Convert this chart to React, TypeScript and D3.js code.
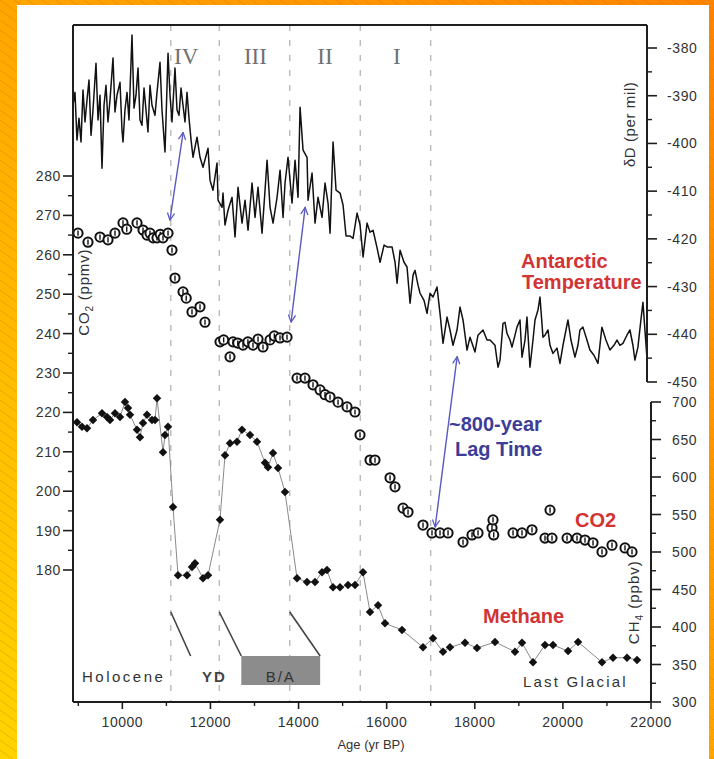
import * as d3 from "d3";

// Antarctic deuterium record (age yr BP, δD per mil)
const deltaD: [number, number][] = [
  [8880, -392.0], [8925, -389.3], [8970, -399.3], [9016, -394.7], [9062, -399.7], [9107, -388.8],
  [9152, -395.5], [9198, -390.9], [9243, -386.7], [9289, -398.3], [9334, -393.0], [9402, -383.2],
  [9448, -395.1], [9493, -389.9], [9538, -405.2], [9584, -392.0], [9629, -387.8], [9674, -395.5],
  [9720, -390.9], [9788, -382.1], [9833, -393.4], [9879, -389.9], [9947, -387.2], [9992, -397.2],
  [10015, -399.7], [10060, -393.0], [10106, -389.3], [10151, -395.1], [10219, -377.3], [10265, -392.6],
  [10310, -389.9], [10356, -384.2], [10401, -395.1], [10446, -396.2], [10492, -388.4], [10537, -393.0],
  [10582, -397.6], [10628, -387.8], [10673, -392.0], [10741, -394.1], [10787, -389.3], [10855, -383.0],
  [10900, -393.0], [10968, -401.8], [10991, -395.1], [11037, -381.1], [11082, -389.9], [11127, -395.5],
  [11195, -384.2], [11241, -393.0], [11286, -394.1], [11332, -388.4], [11377, -392.0], [11422, -395.5],
  [11468, -389.3], [11513, -394.7], [11560, -399.3], [11604, -402.9], [11695, -398.7], [11763, -402.9],
  [11831, -405.0], [11945, -401.0], [11990, -407.7], [12058, -409.8], [12149, -404.1], [12172, -411.9],
  [12263, -413.4], [12285, -410.4], [12330, -417.1], [12399, -414.0], [12490, -411.3], [12558, -419.6],
  [12626, -409.2], [12717, -416.7], [12785, -411.9], [12853, -418.2], [12944, -408.3], [13012, -415.5],
  [13080, -409.2], [13171, -418.8], [13239, -409.8], [13285, -403.5], [13353, -413.4], [13421, -416.7],
  [13512, -411.3], [13580, -405.6], [13648, -415.5], [13693, -408.3], [13761, -402.9], [13852, -412.5],
  [13920, -403.5], [13988, -411.3], [14034, -392.4], [14102, -401.4], [14193, -402.9], [14215, -411.9],
  [14306, -406.2], [14374, -416.7], [14442, -411.3], [14533, -415.5], [14601, -408.3], [14669, -412.5],
  [14715, -418.8], [14783, -399.7], [14851, -409.8], [14942, -410.4], [15010, -412.9], [15078, -419.4],
  [15169, -419.4], [15237, -419.9], [15328, -414.6], [15396, -417.1], [15464, -423.8], [15555, -416.7],
  [15623, -418.6], [15691, -418.2], [15782, -421.9], [15850, -424.9], [15941, -421.3], [16009, -421.7],
  [16122, -421.7], [16190, -424.9], [16236, -429.3], [16304, -422.4], [16394, -424.9], [16462, -425.9],
  [16531, -433.5], [16599, -427.6], [16644, -426.6], [16712, -429.7], [16758, -431.4], [16848, -432.9],
  [16916, -435.6], [16984, -431.4], [17052, -432.2], [17143, -430.1], [17211, -435.6], [17279, -441.9],
  [17370, -436.4], [17438, -439.1], [17506, -442.3], [17597, -439.1], [17665, -434.3], [17733, -437.0],
  [17824, -443.3], [17892, -440.6], [18005, -443.7], [18073, -440.2], [18187, -439.1], [18278, -441.2],
  [18346, -441.2], [18459, -442.3], [18527, -446.9], [18573, -445.4], [18641, -437.7], [18686, -437.5],
  [18731, -439.8], [18800, -441.2], [18845, -442.7], [18958, -438.5], [19026, -437.0], [19072, -444.8],
  [19140, -441.2], [19185, -436.4], [19253, -446.9], [19321, -441.2], [19367, -437.0], [19435, -434.9],
  [19480, -432.2], [19548, -440.6], [19594, -440.2], [19662, -439.1], [19707, -442.3], [19775, -444.0],
  [19866, -442.9], [19934, -446.1], [20002, -442.3], [20047, -440.2], [20115, -437.0], [20183, -441.2],
  [20274, -444.8], [20342, -442.3], [20387, -439.1], [20455, -438.5], [20546, -441.2], [20614, -443.3],
  [20705, -444.4], [20796, -446.1], [20886, -438.5], [20977, -441.2], [21068, -443.3], [21159, -442.3],
  [21227, -441.2], [21295, -442.3], [21363, -441.9], [21454, -440.2], [21522, -439.1], [21590, -442.3],
  [21635, -445.4], [21703, -442.7], [21771, -437.0], [21817, -433.3], [21862, -439.1], [21907, -444.8],
];

// CO2 (age yr BP, ppmv)
const co2: [number, number][] = [
  [8994, 265.5], [9220, 263.2], [9493, 264.5], [9675, 263.8], [9833, 265.5], [10015, 268.1],
  [10100, 266.5], [10333, 268.1], [10469, 266.3], [10560, 265.0], [10628, 265.5], [10700, 264.3],
  [10787, 264.3], [10860, 265.2], [10923, 264.3], [11037, 265.5], [11127, 261.2], [11195, 254.1],
  [11377, 250.6], [11450, 249.0], [11581, 245.5], [11763, 246.8], [11876, 242.9], [12217, 237.9],
  [12300, 238.4], [12444, 234.1], [12512, 237.9], [12620, 237.6], [12739, 237.1], [12850, 237.9],
  [12966, 237.1], [13080, 238.6], [13193, 236.6], [13352, 238.4], [13450, 239.4], [13579, 238.9],
  [13738, 239.1], [13965, 228.7], [14146, 228.7], [14328, 227.0], [14487, 225.7], [14600, 224.5],
  [14714, 223.9], [14896, 222.6], [15100, 221.4], [15281, 220.1], [15395, 214.3], [15622, 207.9],
  [15735, 207.9], [16076, 203.4], [16189, 201.1], [16371, 195.7], [16485, 194.7], [16825, 191.4],
  [17029, 189.4], [17211, 189.4], [17393, 189.4], [17733, 187.1], [17937, 188.9], [18074, 189.4],
  [18391, 190.7], [18414, 192.7], [18430, 188.9], [18868, 189.4], [19072, 189.4], [19299, 190.2],
  [19594, 188.1], [19708, 195.2], [19753, 188.1], [20094, 188.1], [20321, 188.1], [20502, 187.6],
  [20684, 186.9], [20888, 184.6], [21115, 186.3], [21410, 185.6], [21569, 184.6],
];

// CH4 (age yr BP, ppbv)
const ch4: [number, number][] = [
  [8971, 673], [9084, 667], [9198, 665], [9334, 676], [9538, 685], [9652, 680], [9720, 676],
  [9833, 685], [9947, 680], [10060, 700], [10129, 692], [10174, 683], [10333, 663], [10401, 653],
  [10469, 672], [10560, 683], [10673, 676], [10741, 676], [10787, 705], [10923, 633], [10968, 656],
  [11037, 667], [11150, 560], [11264, 469], [11468, 469], [11581, 480], [11649, 485], [11831, 465],
  [11945, 469], [12217, 543], [12330, 629], [12444, 645], [12603, 647], [12716, 663], [12898, 656],
  [13057, 647], [13238, 619], [13306, 613], [13420, 632], [13534, 612], [13692, 580], [13965, 465],
  [14192, 460], [14373, 460], [14532, 473], [14646, 476], [14782, 453], [14941, 453], [15123, 456],
  [15281, 456], [15463, 473], [15622, 420], [15804, 429], [15962, 405], [16348, 396], [16825, 373],
  [17052, 385], [17279, 367], [17438, 373], [17778, 379], [18051, 372], [18459, 380], [18913, 367],
  [19072, 379], [19322, 353], [19594, 376], [19776, 376], [20117, 368], [20344, 380], [20888, 353],
  [21138, 359], [21456, 359], [21683, 356],
];

const ageTicks = [10000, 12000, 14000, 16000, 18000, 20000, 22000];
const ageMinorTicks = [9000, 11000, 13000, 15000, 17000, 19000, 21000];
const co2Ticks = [180, 190, 200, 210, 220, 230, 240, 250, 260, 270, 280];
const co2MinorTicks = [185, 195, 205, 215, 225, 235, 245, 255, 265, 275];
const dDTicks = [-450, -440, -430, -420, -410, -400, -390, -380];
const dDMinorTicks = [-445, -435, -425, -415, -405, -395, -385];
const ch4Ticks = [300, 350, 400, 450, 500, 550, 600, 650, 700];
const ch4MinorTicks = [325, 375, 425, 475, 525, 575, 625, 675];

const boundaryAges = [11100, 12200, 13800, 15400, 17000];
const stageLabels = ["IV", "III", "II", "I"];
const stageAges = [11450, 13020, 14600, 16230];

// lag arrows: temperature end (age, δD) -> CO2 end (age, ppmv)
const lagArrows = [
  { tAge: 11380, dD: -397.7, cAge: 11080, ppmv: 268.8 },
  { tAge: 14150, dD: -413.4, cAge: 13830, ppmv: 242.9 },
  { tAge: 17600, dD: -444.7, cAge: 17100, ppmv: 190.9 },
];

// period brackets at the bottom: boundary age -> label edge age
const periodLinks = [
  [11100, 11550],
  [12200, 12700],
  [13800, 14490],
];
const baBox = [12700, 14490];

export default function App() {
  const W = 714;
  const H = 759;
  const left = 73;
  const right = 647;
  const ch4Right = 651;
  const top = 25;
  const bottom = 702;

  const x = d3.scaleLinear().domain([8880, 22000]).range([left, ch4Right]);
  const yCO2 = d3.scaleLinear().domain([180, 280]).range([570, 176]);
  const yDD = d3.scaleLinear().domain([-450, -380]).range([382, 48]);
  const yCH4 = d3.scaleLinear().domain([300, 700]).range([702, 402]);

  const tempLine = d3
    .line<[number, number]>()
    .x((d) => x(d[0]))
    .y((d) => yDD(d[1]));
  const ch4Line = d3
    .line<[number, number]>()
    .x((d) => x(d[0]))
    .y((d) => yCH4(d[1]));

  const axisColor = "#1e1e1e";
  const textColor = "#333";
  const red = "#d13434";
  const blue = "#3d3d98";
  const sans = "'Liberation Sans', Arial, sans-serif";

  return (
    <svg
      width={W}
      height={H}
      style={{ position: "absolute", left: 0, top: 0, display: "block" }}
      fontFamily={sans}
    >
      <defs>
        <linearGradient id="bg" x1="1" y1="0" x2="0" y2="1">
          <stop offset="0" stopColor="#ff8400" />
          <stop offset="0.45" stopColor="#ffa200" />
          <stop offset="1" stopColor="#ffd400" />
        </linearGradient>
        <pattern id="stripes" width="14" height="10" patternUnits="userSpaceOnUse">
          <line x1="0" y1="0" x2="14" y2="10" stroke="#a85a00" strokeOpacity="0.35" strokeWidth="0.7" />
        </pattern>
        <marker
          id="arrowHead"
          viewBox="0 0 10 10"
          refX="9"
          refY="5"
          markerWidth="9"
          markerHeight="9"
          markerUnits="userSpaceOnUse"
          orient="auto-start-reverse"
        >
          <path d="M1,1 L9,5 L1,9" fill="none" stroke="#5a5ac0" strokeWidth="1.4" />
        </marker>
      </defs>

      <rect x={0} y={0} width={W} height={H} fill="url(#bg)" />
      <rect x={0} y={0} width={W} height={H} fill="url(#stripes)" />
      <rect x={17} y={5} width={692} height={H - 5} fill="#fff" />

      {/* period boundaries */}
      {boundaryAges.map((a) => (
        <line
          key={a}
          x1={x(a)}
          x2={x(a)}
          y1={top}
          y2={bottom}
          stroke="#b4b4b4"
          strokeWidth={1.3}
          strokeDasharray="6 9"
        />
      ))}
      {stageLabels.map((s, i) => (
        <text
          key={s}
          x={x(stageAges[i])}
          y={64}
          textAnchor="middle"
          fontFamily="'Liberation Serif', 'Times New Roman', serif"
          fontSize={23}
          fill="#707070"
        >
          {s}
        </text>
      ))}

      {/* temperature */}
      <path d={tempLine(deltaD) ?? ""} fill="none" stroke="#111" strokeWidth={1.5} strokeLinejoin="round" />

      {/* methane */}
      <path d={ch4Line(ch4) ?? ""} fill="none" stroke="#8a8a8a" strokeWidth={1} />
      {ch4.map((d, i) => (
        <rect
          key={i}
          x={-3}
          y={-3}
          width={6}
          height={6}
          fill="#111"
          transform={`translate(${x(d[0])},${yCH4(d[1])}) rotate(45)`}
        />
      ))}

      {/* CO2 */}
      {co2.map((d, i) => {
        const cx = x(d[0]);
        const cy = yCO2(d[1]);
        return (
          <g key={i}>
            <circle cx={cx} cy={cy} r={4.6} fill="#fff" stroke="#111" strokeWidth={2} />
            <line x1={cx} x2={cx} y1={cy - 2.6} y2={cy + 2.6} stroke="#111" strokeWidth={1.4} />
          </g>
        );
      })}

      {/* lag arrows */}
      {lagArrows.map((a, i) => (
        <line
          key={i}
          x1={x(a.tAge)}
          y1={yDD(a.dD)}
          x2={x(a.cAge)}
          y2={yCO2(a.ppmv)}
          stroke="#5a5ac0"
          strokeWidth={1.4}
          markerStart="url(#arrowHead)"
          markerEnd="url(#arrowHead)"
        />
      ))}

      {/* frame and axes */}
      <line x1={left} x2={right} y1={top} y2={top} stroke={axisColor} strokeWidth={2} />
      <line x1={left} x2={left} y1={top} y2={bottom} stroke={axisColor} strokeWidth={2} />
      <line x1={left} x2={ch4Right} y1={bottom} y2={bottom} stroke={axisColor} strokeWidth={2} />
      <line x1={right} x2={right} y1={top} y2={yDD(-450)} stroke={axisColor} strokeWidth={2} />
      <line x1={ch4Right} x2={ch4Right} y1={yCH4(700)} y2={bottom} stroke={axisColor} strokeWidth={2} />

      {/* x axis */}
      {ageTicks.map((t) => (
        <g key={t}>
          <line x1={x(t)} x2={x(t)} y1={bottom} y2={bottom + 7} stroke={axisColor} strokeWidth={1.6} />
          <text x={x(t)} y={727} textAnchor="middle" fontSize={14} fill={textColor} letterSpacing={0.5}>
            {t}
          </text>
        </g>
      ))}
      {ageMinorTicks.map((t) => (
        <line key={t} x1={x(t)} x2={x(t)} y1={bottom} y2={bottom + 4} stroke={axisColor} strokeWidth={1.4} />
      ))}
      <text x={371} y={749} textAnchor="middle" fontSize={13} fill={textColor}>
        Age (yr BP)
      </text>

      {/* CO2 axis */}
      {co2Ticks.map((t) => (
        <g key={t}>
          <line x1={left - 10} x2={left} y1={yCO2(t)} y2={yCO2(t)} stroke={axisColor} strokeWidth={1.6} />
          <text x={61} y={yCO2(t) + 5} textAnchor="end" fontSize={14} fill={textColor} letterSpacing={0.6}>
            {t}
          </text>
        </g>
      ))}
      {co2MinorTicks.map((t) => (
        <line key={t} x1={left - 5} x2={left} y1={yCO2(t)} y2={yCO2(t)} stroke={axisColor} strokeWidth={1.4} />
      ))}
      <text
        transform={`translate(89, ${yCO2(250.5)}) rotate(-90)`}
        textAnchor="middle"
        fontSize={15}
        fill={textColor}
        letterSpacing={0.8}
      >
        CO<tspan fontSize={10} dy={4}>2</tspan>
        <tspan dy={-4}> (ppmv)</tspan>
      </text>

      {/* δD axis */}
      {dDTicks.map((t) => (
        <g key={t}>
          <line x1={right} x2={right + 10} y1={yDD(t)} y2={yDD(t)} stroke={axisColor} strokeWidth={1.6} />
          <text x={667} y={yDD(t) + 5} fontSize={14} fill={textColor} letterSpacing={0.6}>
            {t}
          </text>
        </g>
      ))}
      {dDMinorTicks.map((t) => (
        <line key={t} x1={right} x2={right + 5} y1={yDD(t)} y2={yDD(t)} stroke={axisColor} strokeWidth={1.4} />
      ))}
      <text
        transform={`translate(635, ${yDD(-396)}) rotate(-90)`}
        textAnchor="middle"
        fontSize={15}
        fill={textColor}
        letterSpacing={0.6}
      >
        δD (per mil)
      </text>

      {/* CH4 axis */}
      {ch4Ticks.map((t) => (
        <g key={t}>
          <line x1={ch4Right} x2={ch4Right + 10} y1={yCH4(t)} y2={yCH4(t)} stroke={axisColor} strokeWidth={1.6} />
          <text x={672} y={yCH4(t) + 5} fontSize={14} fill={textColor} letterSpacing={0.6}>
            {t}
          </text>
        </g>
      ))}
      {ch4MinorTicks.map((t) => (
        <line key={t} x1={ch4Right} x2={ch4Right + 5} y1={yCH4(t)} y2={yCH4(t)} stroke={axisColor} strokeWidth={1.4} />
      ))}
      <text
        transform={`translate(639, ${yCH4(433)}) rotate(-90)`}
        textAnchor="middle"
        fontSize={15}
        fill={textColor}
        letterSpacing={1}
      >
        CH<tspan fontSize={10} dy={4}>4</tspan>
        <tspan dy={-4}> (ppbv)</tspan>
      </text>

      {/* series labels */}
      <text x={521} y={268} fontSize={20} fontWeight="bold" fill={red}>
        Antarctic
      </text>
      <text x={522} y={289} fontSize={20} fontWeight="bold" fill={red}>
        Temperature
      </text>
      <text x={449} y={431} fontSize={20} fontWeight="bold" fill={blue}>
        ~800-year
      </text>
      <text x={455} y={456} fontSize={20} fontWeight="bold" fill={blue}>
        Lag Time
      </text>
      <text x={575} y={527} fontSize={20} fontWeight="bold" fill={red}>
        CO2
      </text>
      <text x={483} y={623} fontSize={20} fontWeight="bold" fill={red}>
        Methane
      </text>

      {/* period annotations */}
      {periodLinks.map((p, i) => (
        <line key={i} x1={x(p[0])} y1={612} x2={x(p[1])} y2={656} stroke="#444" strokeWidth={1.6} />
      ))}
      <rect x={x(baBox[0])} y={656} width={x(baBox[1]) - x(baBox[0])} height={29} fill="#8c8c8c" />
      <text x={(x(baBox[0]) + x(baBox[1])) / 2} y={682} textAnchor="middle" fontSize={15} fill="#333" letterSpacing={2}>
        B/A
      </text>
      <text x={82} y={682} fontSize={15} fill={textColor} letterSpacing={2.5}>
        Holocene
      </text>
      <text x={202} y={682} fontSize={15} fontWeight="bold" fill="#444" letterSpacing={2}>
        YD
      </text>
      <text x={523} y={687} fontSize={15} fill={textColor} letterSpacing={2.2}>
        Last Glacial
      </text>
    </svg>
  );
}
